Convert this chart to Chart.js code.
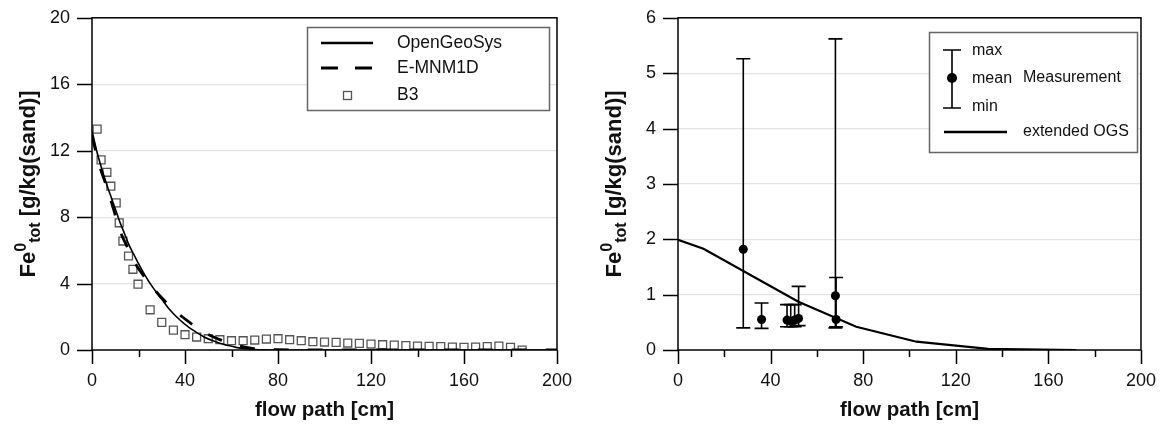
<!DOCTYPE html>
<html>
<head>
<meta charset="utf-8">
<title>Fe0 tot along the flow path</title>
<script src="https://cdn.jsdelivr.net/npm/chart.js@4.4.1/dist/chart.umd.min.js"></script>
<style>
  html, body { margin: 0; padding: 0; background: #fff; }
  #wrap { position: relative; width: 1162px; height: 425px; }
  canvas { position: absolute; top: 0; }
  #left { left: 0; }
  #right { left: 580px; }
</style>
</head>
<body>
<div id="wrap">
  <canvas id="left" width="580" height="425"></canvas>
  <canvas id="right" width="582" height="425"></canvas>
</div>
<script>
// Left panel: column B3 and the two model runs
const ogsX = [0, 2, 4, 6, 8, 10, 12, 14, 16, 18, 20, 23, 26, 30, 33, 36, 40, 44, 48, 52, 55, 58, 62, 66, 70, 75, 80, 90, 100, 120, 140, 160, 180, 200];
const ogsY = [13.2, 12.0, 11.0, 10.1, 9.3, 8.5, 7.7, 7.0, 6.3, 5.75, 5.2, 4.45, 3.8, 3.05, 2.5, 2.05, 1.55, 1.15, 0.8, 0.55, 0.4, 0.29, 0.16, 0.08, 0.03, 0.01, 0, 0, 0, 0, 0, 0, 0, 0];

const emX = [0, 3, 6, 9, 12, 15, 18, 22, 27, 31, 37, 42, 48, 54, 62, 69, 80, 100, 200];
const emY = [12.9, 11.2, 9.95, 8.6, 7.2, 6.25, 5.35, 4.5, 3.6, 3.0, 2.2, 1.66, 1.08, 0.68, 0.3, 0.1, 0.02, 0, 0];

const b3X = [2.2, 3.9, 6.4, 8.1, 10.4, 11.7, 13.3, 15.7, 17.6, 19.8, 25, 30, 35, 40, 45, 50, 55, 60, 65, 70, 75, 80, 85, 90, 95, 100,
             105, 110, 115, 120, 125, 130, 135, 140, 145, 150, 155, 160, 165, 170, 175, 180, 185];
const b3Y = [13.3, 11.45, 10.7, 9.86, 8.86, 7.66, 6.56, 5.66, 4.86, 3.96, 2.42, 1.66, 1.2, 0.92, 0.78, 0.68, 0.62, 0.56, 0.56, 0.6, 0.66, 0.68, 0.62, 0.56, 0.5, 0.48,
             0.46, 0.42, 0.4, 0.36, 0.32, 0.3, 0.26, 0.24, 0.22, 0.2, 0.18, 0.16, 0.18, 0.2, 0.24, 0.16, 0];

// Right panel: measurements (mean, min, max) and the extended model
const extX = [0, 11, 52, 77, 103, 134, 172];
const extY = [1.99, 1.83, 0.87, 0.42, 0.15, 0.02, 0];

const measX = [28.2, 36.1, 47.1, 48.7, 50.4, 52.1, 68.0, 68.3];
const measMean = [1.82, 0.55, 0.54, 0.52, 0.54, 0.57, 0.98, 0.55];
const measMin = [0.40, 0.39, 0.42, 0.42, 0.42, 0.44, 0.40, 0.42];
const measMax = [5.26, 0.85, 0.82, 0.82, 0.82, 1.15, 5.62, 1.31];

const xTicksMajor = 40;
const FONT = "'Liberation Sans', Arial, Helvetica, sans-serif";
Chart.defaults.font.family = FONT;
Chart.defaults.color = '#111';

function pts(xs, ys) {
    return xs.map((x, i) => ({ x: x, y: ys[i] }));
}

// frame, outward ticks and axis titles (Fe0tot with super/subscript)
const frameTicks = {
    id: 'frameTicks',
    afterDraw(chart, args, opts) {
        const ctx = chart.ctx;
        const a = chart.chartArea;
        const xs = chart.scales.x, ys = chart.scales.y;
        ctx.save();
        ctx.strokeStyle = '#000';
        ctx.lineWidth = 1.5;
        ctx.strokeRect(a.left, a.top, a.right - a.left, a.bottom - a.top);

        ctx.beginPath();
        xs.ticks.forEach(t => {
            const px = Math.round(xs.getPixelForValue(t.value)) + 0.5;
            const len = t.value % xTicksMajor === 0 ? 14 : 7;
            ctx.moveTo(px, a.bottom);
            ctx.lineTo(px, a.bottom + len);
        });
        ys.ticks.forEach(t => {
            const py = Math.round(ys.getPixelForValue(t.value)) + 0.5;
            ctx.moveTo(a.left - 15, py);
            ctx.lineTo(a.left, py);
        });
        ctx.stroke();

        // x title
        ctx.fillStyle = '#111';
        ctx.font = 'bold 20.5px ' + FONT;
        ctx.textAlign = 'center';
        ctx.textBaseline = 'middle';
        ctx.fillText('flow path [cm]', (a.left + a.right) / 2, 410);

        // y title, rotated
        const parts = [
            { t: 'Fe', f: 'bold 22px ' + FONT, dy: 0 },
            { t: '0', f: 'bold 16px ' + FONT, dy: -9 },
            { t: 'tot', f: 'bold 16px ' + FONT, dy: 5 },
            { t: ' [g/kg(sand)]', f: 'bold 22px ' + FONT, dy: 0 }
        ];
        let total = 0;
        parts.forEach(p => { ctx.font = p.f; p.w = ctx.measureText(p.t).width; total += p.w; });
        ctx.translate(opts.titleX, (a.top + a.bottom) / 2);
        ctx.rotate(-Math.PI / 2);
        ctx.textAlign = 'left';
        ctx.textBaseline = 'alphabetic';
        let cx = -total / 2;
        parts.forEach(p => {
            ctx.font = p.f;
            ctx.fillText(p.t, cx, p.dy);
            cx += p.w;
        });
        ctx.restore();
    }
};

function baseOptions(yMax, yStep, axisWidth, padRight, titleX) {
    return {
        responsive: false,
        animation: false,
        devicePixelRatio: 1,
        layout: { padding: { top: 17, right: padRight, left: 0, bottom: 0 } },
        plugins: {
            legend: { display: false },
            tooltip: { enabled: false },
            frameTicks: { titleX: titleX }
        },
        scales: {
            x: {
                type: 'linear', min: 0, max: 200,
                afterFit: s => { s.height = 75; },
                border: { display: false },
                grid: { drawOnChartArea: false, tickLength: 14, tickColor: 'rgba(0,0,0,0)' },
                ticks: {
                    stepSize: 20, padding: 6, autoSkip: false, maxRotation: 0,
                    font: { size: 18 },
                    callback: v => (v % xTicksMajor === 0 ? v : '')
                }
            },
            y: {
                type: 'linear', min: 0, max: yMax,
                afterFit: s => { s.width = axisWidth; },
                border: { display: false },
                grid: {
                    tickLength: 15, tickColor: 'rgba(0,0,0,0)', lineWidth: 1.2,
                    color: c => (c.tick.value > 0 && c.tick.value < yMax ? '#e3e3e3' : 'rgba(0,0,0,0)')
                },
                ticks: { stepSize: yStep, padding: 7, font: { size: 18 } }
            }
        }
    };
}

// legend box of the left panel
const leftLegend = {
    id: 'leftLegend',
    afterDraw(chart) {
        const ctx = chart.ctx;
        ctx.save();
        ctx.fillStyle = '#fff';
        ctx.fillRect(307, 27, 242, 83);
        ctx.strokeStyle = '#666';
        ctx.lineWidth = 1.5;
        ctx.strokeRect(307.5, 27.5, 242, 83);

        ctx.strokeStyle = '#000';
        ctx.lineWidth = 2.5;
        ctx.beginPath();
        ctx.moveTo(321, 43); ctx.lineTo(373, 43);
        ctx.stroke();
        ctx.lineWidth = 3;
        ctx.setLineDash([17, 17]);
        ctx.beginPath();
        ctx.moveTo(321, 68); ctx.lineTo(373, 68);
        ctx.stroke();
        ctx.setLineDash([]);
        ctx.strokeStyle = '#555';
        ctx.lineWidth = 1.3;
        ctx.strokeRect(343.5, 91.5, 8, 8);

        ctx.fillStyle = '#111';
        ctx.font = '17.5px ' + FONT;
        ctx.textBaseline = 'middle';
        ctx.fillText('OpenGeoSys', 397, 43);
        ctx.fillText('E-MNM1D', 397, 68);
        ctx.fillText('B3', 397, 95);
        ctx.restore();
    }
};

// legend box of the right panel
const rightLegend = {
    id: 'rightLegend',
    afterDraw(chart) {
        const ctx = chart.ctx;
        ctx.save();
        ctx.fillStyle = '#fff';
        ctx.fillRect(349, 32, 208, 120);
        ctx.strokeStyle = '#666';
        ctx.lineWidth = 1.5;
        ctx.strokeRect(349.5, 32.5, 208, 120);

        ctx.strokeStyle = '#000';
        ctx.lineWidth = 1.6;
        ctx.beginPath();
        ctx.moveTo(372, 50); ctx.lineTo(372, 108);
        ctx.moveTo(363, 50); ctx.lineTo(381, 50);
        ctx.moveTo(363, 108); ctx.lineTo(381, 108);
        ctx.stroke();
        ctx.fillStyle = '#000';
        ctx.beginPath();
        ctx.arc(372, 78, 5, 0, Math.PI * 2);
        ctx.fill();
        ctx.lineWidth = 2.5;
        ctx.beginPath();
        ctx.moveTo(364, 132); ctx.lineTo(427, 132);
        ctx.stroke();

        ctx.fillStyle = '#111';
        ctx.font = '16px ' + FONT;
        ctx.textBaseline = 'middle';
        ctx.fillText('max', 392, 51);
        ctx.fillText('mean', 392, 79);
        ctx.fillText('min', 392, 107);
        ctx.fillText('Measurement', 443, 78);
        ctx.fillText('extended OGS', 443, 132);
        ctx.restore();
    }
};

new Chart(document.getElementById('left'), {
    type: 'scatter',
    data: {
        datasets: [
            {
                label: 'OpenGeoSys',
                data: pts(ogsX, ogsY),
                showLine: true,
                borderColor: '#000',
                borderWidth: 1.6,
                pointRadius: 0,
                cubicInterpolationMode: 'monotone'
            },
            {
                label: 'E-MNM1D',
                data: pts(emX, emY),
                showLine: true,
                borderColor: '#000',
                borderWidth: 2.8,
                borderDash: [15, 19],
                pointRadius: 0,
                cubicInterpolationMode: 'monotone'
            },
            {
                label: 'B3',
                data: pts(b3X, b3Y),
                showLine: false,
                pointStyle: 'rect',
                pointRadius: 5.6,
                pointBorderColor: '#555',
                pointBackgroundColor: 'rgba(0,0,0,0)',
                pointBorderWidth: 1.3
            }
        ]
    },
    options: baseOptions(20, 4, 92, 23, 35),
    plugins: [frameTicks, leftLegend]
});

// one small line dataset per measurement: min..max with caps
const barSets = measX.map((x, i) => ({
    label: 'range ' + i,
    data: [{ x: x, y: measMin[i] }, { x: x, y: measMax[i] }],
    showLine: true,
    borderColor: '#000',
    borderWidth: 1.6,
    pointStyle: 'line',
    pointRadius: 7,
    pointBorderColor: '#000',
    pointBorderWidth: 1.6
}));

new Chart(document.getElementById('right'), {
    type: 'scatter',
    data: {
        datasets: [
            {
                label: 'extended OGS',
                data: pts(extX, extY),
                showLine: true,
                borderColor: '#000',
                borderWidth: 2.2,
                pointRadius: 0,
                tension: 0
            },
            ...barSets,
            {
                label: 'mean',
                data: pts(measX, measMean),
                pointStyle: 'circle',
                pointRadius: 4.5,
                pointBackgroundColor: '#000',
                pointBorderColor: '#000',
                pointBorderWidth: 0
            }
        ]
    },
    options: baseOptions(6, 1, 98, 19, 41),
    plugins: [frameTicks, rightLegend]
});
</script>
</body>
</html>
